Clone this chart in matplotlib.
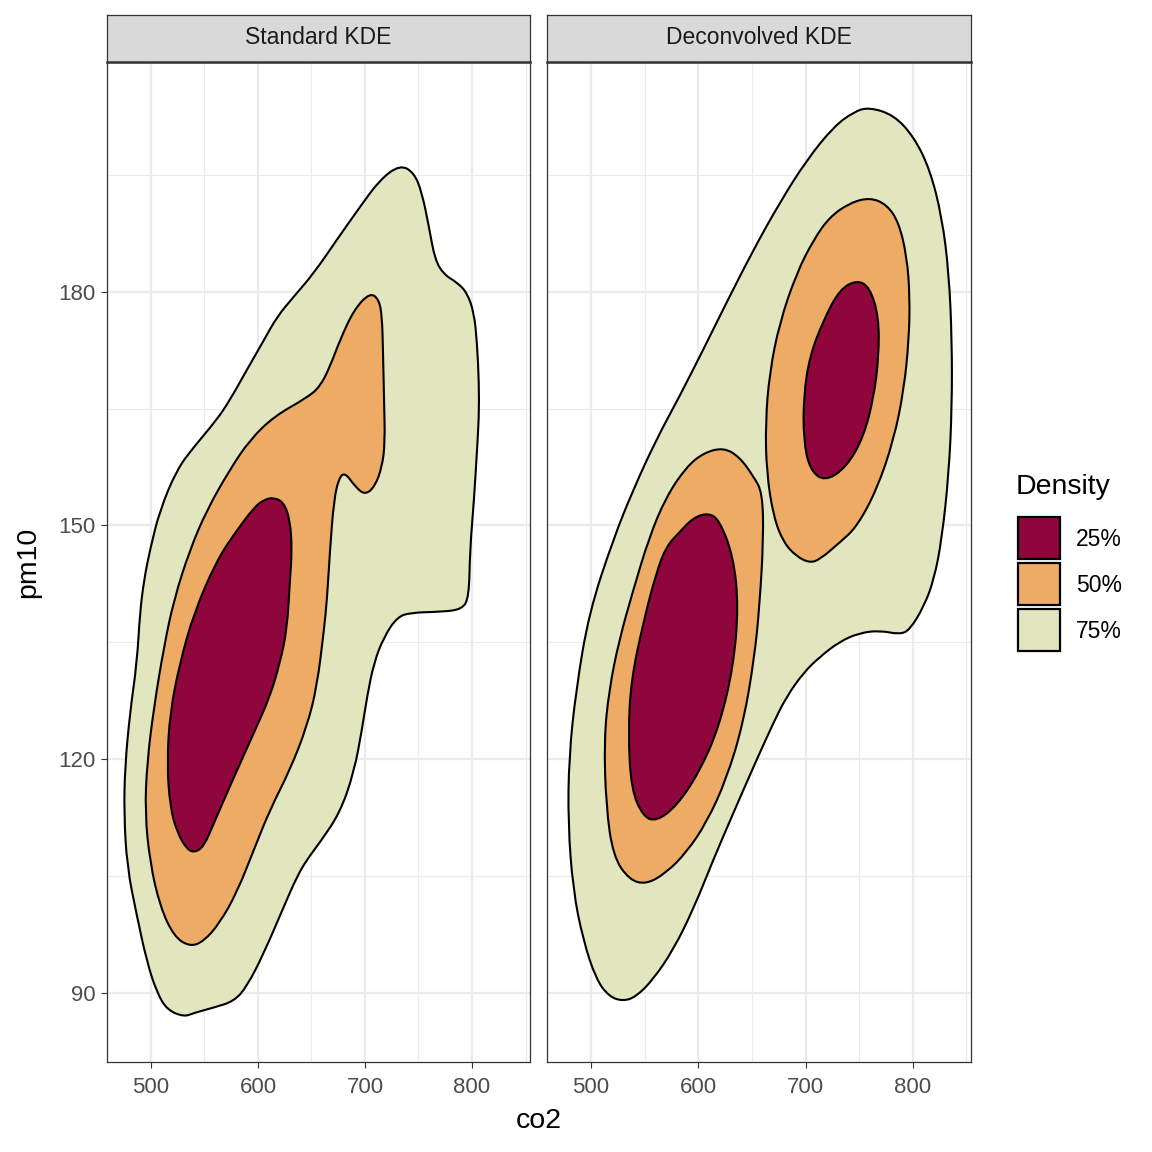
import matplotlib
matplotlib.use("Agg")
import matplotlib.pyplot as plt
from matplotlib.patches import Rectangle, PathPatch
from matplotlib.path import Path

plt.rcParams['font.family'] = ['Liberation Sans', 'DejaVu Sans']

panels = ["Standard KDE", "Deconvolved KDE"]
levels = ["25%", "50%", "75%"]
level_colors = {"25%": "#8E063B", "50%": "#EEAB65", "75%": "#E1E6BF"}

x_ticks = [500, 600, 700, 800]
y_ticks = [90, 120, 150, 180]
x_minor = [550, 650, 750, 850]
y_minor = [105, 135, 165, 195]
x_label = "co2"
y_label = "pm10"
legend_title = "Density"

# ---- Standard KDE contours (co2, pm10) ----
std_75_x = [732.7, 745.8, 753.3, 759.8, 765.4, 773.8, 786.0, 795.3, 801.9, 804.7, 806.5, 806.5, 804.7, 801.9,
            798.1, 797.2, 790.7, 770.1, 742.1, 729.9, 717.8, 708.4, 701.9, 697.2, 689.7, 676.6, 657.9, 645.8,
            636.4, 624.3, 605.6, 589.7, 577.6, 558.9, 540.2, 530.8, 515.0, 505.6, 496.3, 486.9, 477.6, 474.8,
            475.7, 480.4, 486.9, 489.7, 493.5, 499.1, 508.4, 524.3, 540.2, 561.7, 573.8, 589.7, 605.6, 617.8,
            633.6, 652.3, 673.8, 695.3, 714.0]
std_75_y = [196.3, 195.3, 192.7, 188.3, 184.1, 182.2, 181.2, 179.9, 177.3, 173.5, 168.3, 164.0, 159.7, 153.3,
            146.9, 140.8, 139.2, 138.9, 138.8, 138.2, 135.7, 132.4, 128.0, 123.8, 118.3, 113.1, 109.3, 107.1,
            104.9, 101.1, 95.1, 90.8, 88.9, 88.1, 87.4, 86.9, 87.8, 90.0, 93.9, 99.8, 106.2, 113.1,
            119.0, 126.0, 132.4, 138.8, 143.0, 146.9, 152.0, 157.2, 160.1, 163.6, 166.1, 170.0, 173.8, 176.8,
            179.4, 182.4, 186.7, 190.9, 194.4]

std_50_x = [704.7, 713.1, 715.9, 716.8, 717.8, 718.7, 715.9, 709.3, 700.0, 690.7, 681.3, 675.7, 671.0, 667.3,
            664.5, 661.7, 655.1, 645.8, 629.9, 611.2, 596.3, 580.4, 564.5, 549.5, 536.4, 521.5, 508.4, 499.1,
            494.4, 496.3, 502.8, 512.1, 521.5, 536.4, 552.3, 573.8, 592.5, 615.0, 645.8, 657.9, 667.3, 676.6,
            689.7]
std_50_y = [179.9, 179.0, 176.8, 172.6, 166.1, 160.6, 157.5, 155.0, 153.9, 155.0, 156.8, 156.1, 153.3, 146.9,
            140.5, 136.6, 129.3, 124.2, 118.6, 113.5, 108.4, 102.9, 99.0, 96.6, 95.9, 97.2, 101.1, 106.7,
            113.1, 119.5, 126.7, 134.4, 140.5, 146.9, 152.0, 157.2, 161.0, 164.0, 166.4, 167.8, 170.4, 173.8,
            177.7]

std_25_x = [615.0, 624.3, 629.9, 631.8, 629.9, 627.1, 620.6, 611.2, 596.3, 577.6, 558.9, 549.5, 541.1, 533.6,
            524.3, 517.8, 515.0, 517.8, 527.1, 540.2, 561.7, 580.4, 596.3, 605.6]
std_25_y = [153.6, 152.9, 150.7, 146.9, 143.0, 136.6, 132.4, 128.0, 123.4, 117.7, 111.8, 108.8, 108.0, 108.4,
            110.6, 113.9, 119.5, 126.0, 132.4, 138.8, 145.6, 149.4, 152.3, 153.3]

# ---- Deconvolved KDE contours (co2, pm10) ----
dec_75_x = [758.9, 782.2, 800.9, 815.9, 827.1, 833.6, 836.4, 836.4, 833.6, 827.0, 819.6, 810.3, 797.2, 787.9,
            769.2, 750.5, 731.8, 713.1, 698.1, 682.2, 670.1, 651.4, 632.7, 614.0, 595.3, 576.6, 557.9, 542.1,
            529.9, 516.8, 504.7, 492.5, 483.2, 478.5, 479.4, 486.0, 498.1, 520.6, 539.3, 560.7, 582.2,
            604.7, 626.2, 651.4, 675.7, 700.9, 726.2, 744.9]
dec_75_y = [203.7, 202.7, 199.9, 195.7, 189.6, 182.4, 173.8, 165.2, 156.8, 148.2, 143.0, 139.6, 136.6, 136.0,
            136.5, 136.2, 135.1, 133.1, 131.1, 128.0, 124.7, 119.0, 113.1, 107.1, 100.7, 95.5, 91.7, 89.5,
            88.9, 89.5, 91.7, 96.8, 103.2, 111.8, 120.3, 128.9, 138.8, 148.2, 154.6, 161.0, 166.5,
            172.6, 178.6, 185.4, 191.4, 196.9, 201.2, 203.1]

dec_50a_x = [759.8, 775.7, 786.9, 794.4, 797.2, 796.3, 791.6, 782.2, 766.4, 747.7, 731.8, 713.1, 703.7, 691.6,
             679.4, 670.1, 663.6, 662.6, 666.4, 675.7, 691.6, 707.5, 722.4, 741.1]
dec_50a_y = [192.1, 191.2, 188.9, 184.5, 179.4, 173.8, 167.4, 161.0, 154.6, 149.8, 147.8, 145.6, 145.2, 146.0,
             147.8, 151.1, 156.8, 163.2, 169.6, 176.0, 182.4, 186.7, 189.6, 191.4]

dec_50b_x = [623.4, 638.3, 651.4, 659.8, 660.7, 657.0, 652.3, 642.1, 626.2, 607.5, 588.8, 570.1, 551.4, 535.5,
             520.6, 514.0, 512.1, 516.8, 526.2, 539.3, 554.2, 570.1, 588.8, 604.7]
dec_50b_y = [160.0, 158.8, 156.3, 154.2, 148.2, 139.6, 133.1, 124.7, 117.4, 111.8, 108.0, 105.4, 103.9, 104.5,
             107.5, 113.9, 122.5, 128.9, 135.3, 141.7, 148.5, 153.7, 157.5, 159.3]

dec_25a_x = [747.7, 759.8, 768.2, 768.2, 763.6, 754.2, 738.3, 717.8, 703.7, 698.1, 698.1, 703.7, 716.8, 731.8]
dec_25a_y = [181.5, 180.6, 176.8, 171.7, 166.5, 161.4, 157.5, 155.6, 157.2, 161.0, 166.5, 171.7, 176.4, 180.3]

dec_25b_x = [609.3, 619.6, 632.7, 637.4, 632.7, 619.6, 600.9, 579.4, 560.7, 548.6, 537.4, 534.6, 537.4, 548.6,
             560.7, 570.1, 582.2, 595.3]
dec_25b_y = [151.6, 150.7, 146.0, 139.6, 131.9, 124.2, 118.3, 113.9, 112.0, 112.6, 116.1, 123.4, 130.2, 137.5,
             143.9, 147.3, 149.1, 151.0]

panel_shapes = {
    "Standard KDE": [("75%", std_75_x, std_75_y), ("50%", std_50_x, std_50_y), ("25%", std_25_x, std_25_y)],
    "Deconvolved KDE": [("75%", dec_75_x, dec_75_y), ("50%", dec_50b_x, dec_50b_y), ("50%", dec_50a_x, dec_50a_y),
                        ("25%", dec_25a_x, dec_25a_y), ("25%", dec_25b_x, dec_25b_y)],
}


def smooth_closed_path(xs, ys):
    """Closed quadratic-Bezier path: traced vertices act as control points."""
    n = len(xs)
    mids = [((xs[i] + xs[(i + 1) % n]) / 2, (ys[i] + ys[(i + 1) % n]) / 2) for i in range(n)]
    verts = [mids[-1]]
    codes = [Path.MOVETO]
    for i in range(n):
        verts += [(xs[i], ys[i]), mids[i]]
        codes += [Path.CURVE3, Path.CURVE3]
    verts.append(mids[-1])
    codes.append(Path.CLOSEPOLY)
    return Path(verts, codes)


W = H = 1152
fig = plt.figure(figsize=(11.52, 11.52), dpi=100)
fig.patch.set_facecolor("white")

panel_px = [(107, 530), (547, 971)]
top_px, bot_px = 62, 1062
strip_top = 15

def fx(p):
    return p / W

def fy(p):
    return 1 - p / H

tick_color = "#4D4D4D"
frame_color = "#333333"
grid_color = "#EBEBEB"

for name, (l, r) in zip(panels, panel_px):
    ax = fig.add_axes([fx(l), fy(bot_px), fx(r - l), (bot_px - top_px) / H])
    ax.set_xlim(458.9, 854.2)
    ax.set_ylim(81.1, 209.5)
    ax.set_facecolor("white")
    for v in x_minor:
        ax.axvline(v, color=grid_color, lw=0.8, zorder=0)
    for v in y_minor:
        ax.axhline(v, color=grid_color, lw=0.8, zorder=0)
    for v in x_ticks:
        ax.axvline(v, color=grid_color, lw=1.6, zorder=0)
    for v in y_ticks:
        ax.axhline(v, color=grid_color, lw=1.6, zorder=0)
    for lev, xs, ys in panel_shapes[name]:
        patch = PathPatch(smooth_closed_path(xs, ys), facecolor=level_colors[lev],
                          edgecolor="black", lw=1.5, joinstyle="round", zorder=2)
        ax.add_patch(patch)
    ax.set_xticks(x_ticks)
    ax.set_xticklabels([str(t) for t in x_ticks])
    ax.set_yticks(y_ticks)
    ax.tick_params(axis='both', colors=frame_color, labelcolor=tick_color, labelsize=16,
                   length=4.5, width=0.8)
    ax.tick_params(axis='x', pad=6)
    ax.tick_params(axis='y', pad=4)
    if name == panels[0]:
        ax.set_yticklabels([str(t) for t in y_ticks])
    else:
        ax.set_yticklabels([])
        ax.tick_params(axis='y', length=0)
    for s in ax.spines.values():
        s.set_color(frame_color)
        s.set_linewidth(0.9)
    # strip
    sax = fig.add_axes([fx(l), fy(top_px), fx(r - l), (top_px - strip_top) / H])
    sax.set_facecolor("#D9D9D9")
    sax.set_xticks([])
    sax.set_yticks([])
    for s in sax.spines.values():
        s.set_color(frame_color)
        s.set_linewidth(0.9)
    sax.spines['bottom'].set_linewidth(1.8)
    sax.text(0.5, 0.52, name, ha="center", va="center", fontsize=16.5, color="#1A1A1A",
             transform=sax.transAxes)

fig.text(fx(539), fy(1121), x_label, ha="center", va="center", fontsize=20.5, color="black")
fig.text(fx(28), fy(562), y_label, ha="center", va="center", fontsize=20.5, color="black", rotation=90)

# legend
fig.text(fx(1016), fy(487), legend_title, ha="left", va="center", fontsize=20.5, color="black")
key_tops = [517, 563, 609]
for lev, kt in zip(levels, key_tops):
    fig.add_artist(Rectangle((fx(1018), fy(kt + 42)), 42 / W, 42 / H, transform=fig.transFigure,
                             facecolor=level_colors[lev], edgecolor="black", lw=1.6))
    fig.text(fx(1076), fy(kt + 22), lev, ha="left", va="center", fontsize=16.5, color="black")

fig.savefig("out.png", dpi=100, facecolor="white")
